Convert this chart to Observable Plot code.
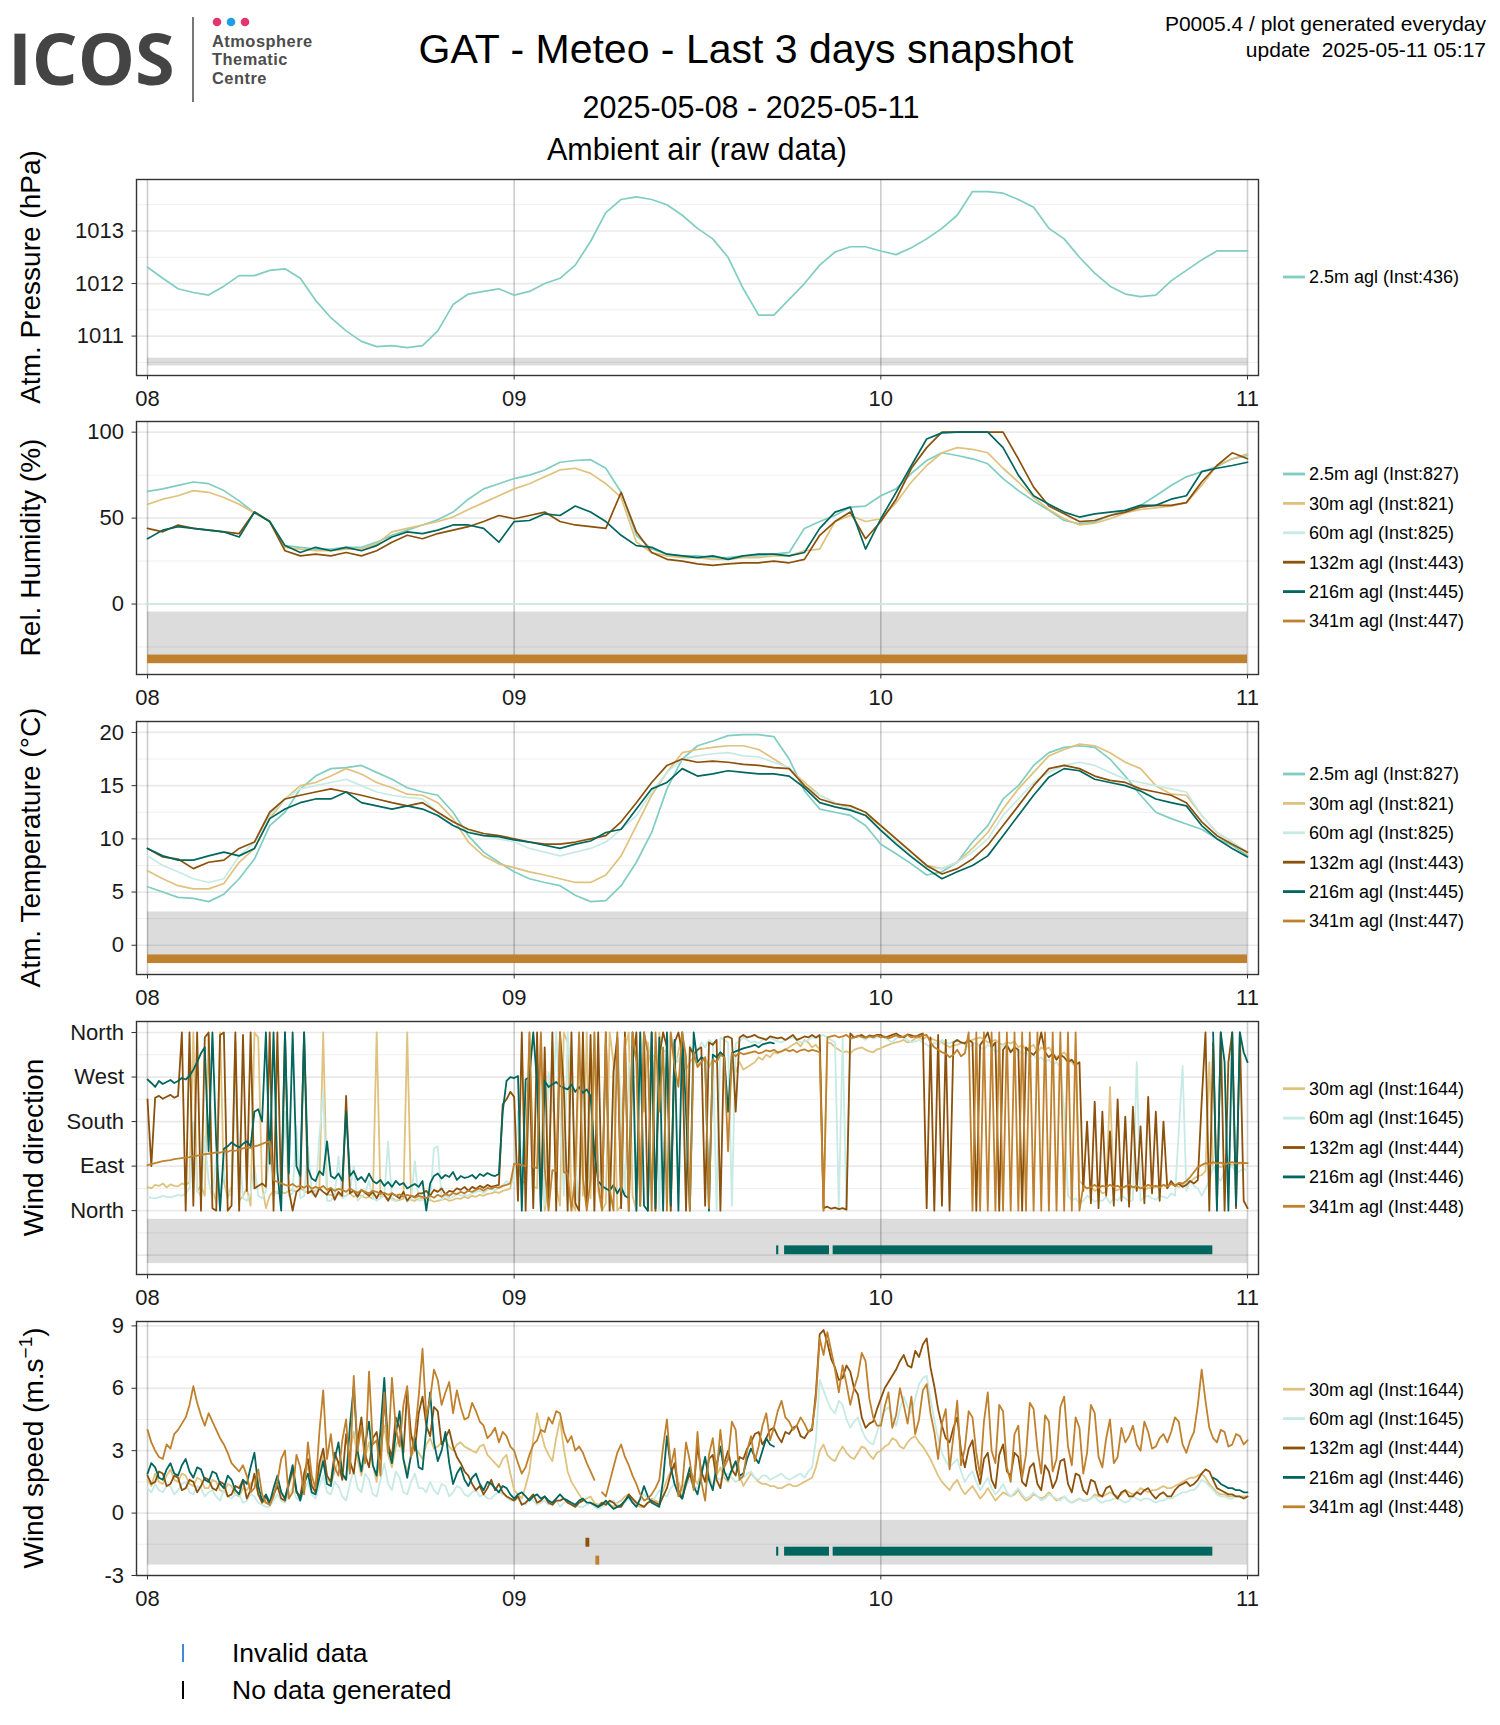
<!DOCTYPE html>
<html><head><meta charset="utf-8">
<script src="https://cdn.jsdelivr.net/npm/d3@7"></script>
<script src="https://cdn.jsdelivr.net/npm/@observablehq/plot@0.6"></script>
<style>
body{margin:0;background:#fff;}
#page{position:relative;width:1500px;height:1725px;overflow:hidden;background:#fff;font-family:"Liberation Sans",Arial,Helvetica,sans-serif;}
#page > svg{position:absolute;left:0;}
</style></head><body><div id="page"></div>
<script>
// ================= DATA =================
// time axis: hours since 2025-05-08 00:00
const dayTicks = [0, 24, 48, 72];
const dayLabels = ["08", "09", "10", "11"];
const hourly = d3.range(0, 73);
const quarterHourly = d3.range(0, 289).map(i => i / 4);

const seriesColors = {"2.5m":"#80cdc1","30m":"#dfc27d","60m":"#c7eae5","132m":"#8c510a","216m":"#01665e","341m":"#bf812d"};

// ---- Atm. pressure (hPa), hourly
const pressure25 = [1012.31,1012.10,1011.90,1011.83,1011.78,1011.95,1012.15,1012.15,1012.25,1012.28,
 1012.10,1011.68,1011.35,1011.10,1010.90,1010.80,1010.82,1010.78,1010.82,1011.10,
 1011.60,1011.80,1011.85,1011.90,1011.78,1011.85,1012.00,1012.10,1012.35,1012.80,
 1013.35,1013.60,1013.65,1013.60,1013.50,1013.30,1013.05,1012.85,1012.50,1011.90,
 1011.40,1011.40,1011.70,1012.00,1012.35,1012.60,1012.70,1012.70,1012.62,1012.55,
 1012.68,1012.85,1013.05,1013.30,1013.75,1013.75,1013.72,1013.60,1013.45,1013.05,
 1012.85,1012.50,1012.20,1011.95,1011.80,1011.75,1011.78,1012.05,1012.25,1012.45,
 1012.62,1012.62,1012.62];
const pressureLegend = ["2.5m agl (Inst:436)"];

// ---- Relative humidity (%), hourly
const rh25 = [65.5,67,69,71,70,66,60,53,48,34, 33,32,32,33,33,36,40,43,46,49,
 53.5,61,67,70,73,75,78,82.5,83.5,84, 79,65,40,32,29,28,28,27,27,28,
 28,29,30,44,48,51.5,56.4,57,63,67, 76,83.5,88,86.4,84.5,81.6,73,66,60,54.5,
 48.6,46.7,47.7,51.5,54.5,57.4,63,69,74,77, 80,84.5,86.4];
const rh30 = [58,61,63,66,65,62,58,53,48,33, 32,31,31,32,32,35,42,44,46,48,
 50.6,55,59,63,67,70,74,78,79,76, 70,62,36,30,28,27,27,26,26,27,
 27,28,28,31,32,48,51.5,48,49.6,59, 71,80.6,88,91,90,88,79,71,62,55,
 49.6,46,47,49.6,53,55,56,57,59,69, 80.6,84.5,87.4];
const rh60 = [0,0,0,0,0,0,0,0,0,0, 0,0,0,0,0,0,0,0,0,0, 0,0,0,0,0,0,0,0,0,0, 0,0,0,0,0,0,0,0,0,0,
 0,0,0,0,0,0,0,0,0,0, 0,0,0,0,0,0,0,0,0,0, 0,0,0,0,0,0,0,0,0,0, 0,0,0];
const rh132 = [44,42,46,44,43,42,41,53.5,48,31, 28,29,28,30,28,31,36,40,38,41,
 43,45,48,51.5,49.6,51.5,53.5,48,46,45, 44,65,42,30,26,25,23.4,22.5,23.4,24,
 24,25,24,26,40,48,53.5,38,48,61, 79,91,100,100,100,100,100,84.5,68,57,
 52.5,48,48.6,51.5,53.5,56.4,57.4,57.4,59,71, 80.6,88,84.5];
const rh216 = [38,43,45,44,43,42,39,53.5,48,34, 30,33,31,33,31,34,39,42,41,43,
 46,46,44,36,48,48.6,52.5,51.5,57,53.5, 48,40,34,33,29,28,27,28,26,28,
 29,29,28,30,44,53.5,56.4,32,49.6,65, 80.6,96,99.6,100,100,100,91,75,63,58,
 53.5,50.6,52.5,53.5,54.5,57.4,57.4,61,63,77, 79,80.6,82.5];
const thermoLegendRH = ["2.5m agl (Inst:827)","30m agl (Inst:821)","60m agl (Inst:825)","132m agl (Inst:443)","216m agl (Inst:445)","341m agl (Inst:447)"];

// ---- Air temperature (°C), hourly
const t25 = [5.5,5.0,4.5,4.4,4.1,4.8,6.25,8.1,11.25,12.5, 14.7,15.9,16.6,16.7,16.9,16.25,15.6,14.8,14.4,14.1,
 12.5,10.3,8.75,7.8,6.9,6.25,5.9,5.6,4.7,4.1, 4.2,5.6,7.8,10.6,14.7,17.5,18.75,19.2,19.7,19.8,
 19.8,19.6,17.5,14.5,12.8,12.5,12.2,11.25,9.5,8.6, 7.65,6.6,6.9,7.8,9.7,11.25,13.75,15.0,16.9,18.1,
 18.6,18.75,18.6,17.5,15.9,14.1,12.5,11.9,11.4,10.9, 10.0,9.4,8.4];
const t30 = [7.0,6.25,5.6,5.3,5.3,5.8,7.8,9.1,11.9,13.75, 15.0,15.3,15.9,16.6,16.1,15.3,14.8,14.2,14.1,13.4,
 11.9,9.7,8.4,7.65,7.3,6.9,6.6,6.25,5.9,5.9, 6.6,8.4,11.25,14.1,16.25,18.1,18.4,18.6,18.75,18.75,
 18.4,17.5,16.6,15.3,14.1,13.4,12.8,12.2,11.25,10.0, 8.75,7.5,7.2,7.8,9.1,10.6,12.8,14.7,16.25,17.8,
 18.4,18.9,18.75,18.1,17.2,16.6,15.0,14.2,14.1,12.2, 10.6,9.7,8.6];
const t60 = [8.4,7.5,6.9,6.25,5.9,6.25,8.4,9.7,12.2,13.75, 14.7,15.0,15.3,15.6,15.0,14.4,14.1,13.9,13.75,12.5,
 11.6,10.8,10.3,10.0,9.7,9.1,8.75,8.4,8.75,9.1, 9.7,10.9,12.2,14.4,16.25,17.5,17.8,18.0,18.1,17.8,
 17.7,17.2,16.7,15.0,14.1,13.4,12.8,12.2,10.9,9.7, 8.4,7.3,7.2,7.8,8.75,10.0,12.2,13.75,15.3,16.25,
 16.9,17.2,16.9,16.25,15.6,15.3,15.0,14.7,14.4,12.2, 10.6,9.7,8.75];
const t132 = [9.1,8.3,8.1,7.2,7.8,8.0,9.1,9.7,12.5,13.75, 14.1,14.4,14.7,14.4,14.1,13.75,13.4,13.1,13.4,12.5,
 11.6,10.9,10.5,10.3,10.0,9.7,9.5,9.5,9.7,10.0, 10.3,11.6,13.4,15.3,16.9,17.5,17.2,17.3,17.2,17.0,
 16.9,16.7,16.6,15.0,13.75,13.3,13.1,12.5,11.25,10.0, 8.75,7.5,6.7,7.2,8.1,9.4,11.25,13.1,15.0,16.6,
 16.9,16.6,15.9,15.5,15.3,14.7,14.4,14.1,13.4,11.6, 10.3,9.5,8.75];
const t216 = [9.1,8.4,8.0,8.0,8.4,8.75,8.4,9.1,11.9,12.8, 13.4,13.75,13.75,14.4,13.4,13.1,12.8,13.1,12.8,12.2,
 11.25,10.6,10.3,10.2,9.9,9.7,9.4,9.1,9.5,9.8, 10.6,10.9,12.8,14.7,15.3,16.6,15.9,16.1,16.4,16.25,
 16.1,16.1,15.9,14.8,13.4,13.0,12.7,12.2,10.8,9.5, 8.3,7.2,6.25,6.9,7.5,8.4,10.3,12.2,14.1,15.8,
 16.6,16.4,15.6,15.3,15.0,14.5,13.75,13.4,13.1,11.25, 10.0,9.1,8.3];
const thermoLegendT = ["2.5m agl (Inst:827)","30m agl (Inst:821)","60m agl (Inst:825)","132m agl (Inst:443)","216m agl (Inst:445)","341m agl (Inst:447)"];

// ---- Wind direction (degrees, 0 = North), every 15 min; one row = 3 hours
const wd30 = [
 48,45,52,50,55,47,53,50,49,55,52,58,
 360,40,50,30,355,45,15,360,60,25,50,340,
 20,30,45,10,360,350,50,5,30,40,35,38,
 35,40,42,38,45,40,36,42,38,44,360,32,
 32,30,34,28,30,35,28,32,30,26,28,24,
 360,28,30,24,26,20,22,24,360,22,20,25,
 25,20,22,18,20,22,24,20,22,25,24,28,
 25,30,28,32,30,34,35,38,36,40,42,45,
 90,88,60,55,360,50,45,360,0,55,340,50,
 10,360,340,20,0,355,30,360,25,350,40,0,
 15,360,300,0,10,330,360,30,0,360,200,340,
 280,0,360,270,300,0,290,320,360,285,300,310,
 295,300,310,290,305,300,320,310,200,290,280,300,
 285,290,295,300,310,305,315,310,320,318,322,325,
 330,335,340,332,345,340,330,335,325,0,340,338,
 330,325,320,322,318,325,328,330,325,322,320,326,
 328,332,335,338,340,342,345,340,342,348,350,346,
 352,348,345,342,340,335,330,334,335,338,340,342,
 345,348,350,346,340,342,345,338,335,340,338,342,
 330,335,325,330,335,320,330,325,330,318,310,315,
 320,310,300,290,60,52,45,48,40,44,35,38,
 250,40,42,45,48,50,46,44,48,42,46,45,
 48,50,52,46,55,50,48,52,60,58,65,70,
 72,80,300,85,90,88,92,95,92,94,95,96,
 96];
const wd60 = [
 28,26,25,27,30,28,27,29,32,30,34,45,
 180,40,30,150,60,25,110,30,80,40,30,250,
 140,25,20,35,90,30,25,40,120,30,40,35,
 200,30,35,170,25,30,130,35,28,150,240,20,
 20,30,110,25,30,40,90,20,28,35,60,25,
 20,25,30,140,22,20,25,30,18,22,100,20,
 22,20,25,125,130,22,30,25,28,35,30,32,
 30,35,38,40,35,42,45,40,48,50,60,55,
 60,200,40,260,220,20,300,250,10,280,200,360,
 200,30,360,260,100,0,300,20,150,360,60,100,
 280,0,250,360,200,30,290,310,0,300,360,320,
 315,310,0,320,325,360,315,300,330,20,335,320,
 320,340,330,345,340,0,350,345,340,10,338,342,
 350,345,340,342,338,345,348,350,345,342,340,345,
 348,350,345,340,342,345,350,348,352,355,350,345,
 340,5,350,0,345,350,355,350,345,352,348,350,
 355,350,345,340,348,352,350,345,340,342,345,340,
 335,330,340,335,345,340,338,342,345,340,335,330,
 335,340,330,325,335,330,320,325,335,330,325,320,
 325,315,320,310,315,305,310,300,305,295,300,290,
 200,30,20,25,15,20,30,25,18,22,20,28,
 15,25,20,30,25,18,22,300,20,28,30,25,
 22,30,28,25,35,30,160,292,40,60,50,45,
 30,45,60,90,70,60,80,85,90,75,80,85,
 80];
const wd132 = [
 225,90,228,232,226,230,234,228,232,360,0,360,
 10,360,0,350,360,5,0,355,360,0,10,360,
 0,355,40,360,45,50,55,48,360,0,360,30,
 360,42,0,38,45,360,35,40,28,45,38,32,
 45,22,38,30,232,35,40,28,42,36,30,38,
 25,40,32,20,35,30,25,38,20,30,28,35,
 35,40,30,42,38,45,33,40,38,45,42,48,
 40,48,44,50,46,52,48,50,52,215,225,240,
 230,20,360,0,300,5,360,0,330,10,360,0,
 360,250,0,360,15,0,360,10,355,0,360,5,
 360,0,280,350,5,360,0,300,360,10,360,0,
 360,0,310,360,330,0,340,360,320,0,330,315,
 325,330,10,340,335,345,0,350,352,348,200,350,
 355,350,352,355,350,348,345,352,350,348,350,345,
 350,355,345,348,352,350,355,350,355,5,8,4,
 6,3,5,2,358,350,352,355,350,354,352,355,
 355,350,352,355,358,353,350,356,354,351,355,358,
 5,350,0,355,10,345,0,340,345,340,338,345,
 340,0,335,345,360,330,340,0,325,335,320,330,
 325,0,330,320,315,325,360,320,310,318,305,315,
 310,300,305,295,300,40,180,15,220,5,200,30,
 160,10,225,20,190,8,210,40,170,15,230,35,
 200,20,180,45,60,50,55,48,52,60,55,62,
 220,360,0,340,10,360,0,300,360,5,360,20,
 5];
const wd216 = [
 265,258,250,262,256,260,264,258,262,268,265,272,
 285,300,318,330,120,360,135,0,125,130,138,132,
 128,135,140,130,200,205,180,360,95,360,80,0,
 360,75,360,90,70,360,85,65,60,80,72,140,
 70,65,75,60,200,70,80,62,68,58,75,60,
 55,62,50,58,48,60,52,56,45,50,54,48,
 60,0,55,70,75,65,72,68,78,62,70,66,
 68,72,65,74,70,76,72,70,74,200,262,270,
 268,272,0,265,270,360,258,0,262,250,255,260,
 252,248,245,255,240,250,238,245,232,120,60,50,
 45,40,52,35,48,30,25,360,0,360,10,0,
 360,5,350,0,360,10,345,0,360,200,0,360,
 300,310,305,0,315,310,320,312,200,318,322,325,
 328,330,332,335,330,336,338,340,338,null,null,null,
 null,null,null,null,null,null,null,null,null,null,null,null,
 null,null,null,null,null,null,null,null,null,null,null,null,
 null,null,null,null,null,null,null,null,null,null,null,null,
 null,null,null,null,null,null,null,null,null,null,null,null,
 null,null,null,null,null,null,null,null,null,null,null,null,
 null,null,null,null,null,null,null,null,null,null,null,null,
 null,null,null,null,null,null,null,null,null,null,null,null,
 null,null,null,null,null,null,null,null,null,null,null,null,
 null,null,null,null,null,null,null,null,null,null,null,null,
 null,null,null,360,0,360,300,0,360,10,360,320,
 300];
const wd341 = [
 92,94,96,98,100,101,102,104,105,106,107,108,
 110,111,112,114,115,116,118,117,120,119,122,121,
 124,126,128,127,130,132,135,138,140,62,58,55,
 52,50,54,48,50,46,52,44,48,45,50,42,
 46,40,44,42,38,45,40,36,42,38,35,40,
 38,34,36,32,35,30,33,28,32,30,26,30,
 28,25,30,26,32,28,34,30,36,33,38,35,
 40,38,42,45,40,46,44,48,46,50,52,55,
 95,94,92,90,360,88,86,360,85,0,82,80,
 360,78,75,0,72,360,68,0,62,360,55,0,
 360,45,0,360,40,350,0,360,300,10,360,320,
 0,360,200,330,0,360,290,250,360,310,0,320,
 290,300,310,5,305,300,315,310,120,318,312,320,
 316,318,320,322,318,320,324,322,325,320,322,326,
 322,325,320,324,326,322,325,323,320,0,350,352,
 354,350,352,355,348,350,353,351,349,352,350,354,
 350,352,348,351,354,350,352,355,350,353,351,354,
 355,340,330,325,320,318,310,315,325,312,318,360,
 0,360,0,360,0,360,0,360,0,360,0,360,
 0,360,0,360,0,360,0,360,0,360,0,360,
 0,360,0,360,0,50,45,48,52,46,50,48,
 52,48,50,46,49,53,47,50,45,48,52,49,
 50,47,52,49,54,51,56,55,60,68,78,88,
 92,96,94,98,95,97,93,96,98,95,97,96,
 96];
const windDirTicks = [0, 90, 180, 270, 360];
const windDirLabels = ["North", "East", "South", "West", "North"];
const sonicLegend = ["30m agl (Inst:1644)","60m agl (Inst:1645)","132m agl (Inst:444)","216m agl (Inst:446)","341m agl (Inst:448)"];

// ---- Wind speed (m/s), every 15 min; one row = 3 hours
const ws30 = [
 1.6,1.3,1.9,1.5,1.4,1.8,2.1,1.6,1.5,1.9,1.8,1.4,
 1.3,1.7,1.6,1.2,1.2,1.6,1.5,1.1,1.0,1.4,1.3,0.9,
 0.8,1.2,1.1,1.4,1.6,0.9,0.6,0.5,0.4,0.9,1.5,1.0,
 0.6,1.3,1.9,1.0,0.7,1.6,2.3,1.4,1.1,2.0,2.8,1.7,
 1.4,2.0,2.5,1.8,1.6,2.9,3.9,2.6,1.8,2.7,3.4,2.3,
 1.5,3.0,4.2,2.8,2.2,3.2,3.7,2.6,2.0,2.7,3.1,2.9,
 2.6,3.3,3.6,3.1,3.2,3.4,3.5,3.2,3.0,3.3,3.4,3.2,
 3.1,3.0,2.9,3.2,3.3,2.8,2.6,2.4,2.2,2.6,2.8,1.9,
 1.1,0.9,0.7,1.3,2.0,3.6,4.8,3.9,3.2,2.8,2.5,3.6,
 4.5,3.1,2.0,1.5,1.2,0.9,0.6,0.7,0.8,0.5,0.4,0.5,
 0.5,0.4,0.3,0.5,0.6,0.8,0.9,0.6,0.4,0.3,0.3,0.5,
 0.7,0.6,0.5,1.1,1.6,2.0,2.3,1.5,1.0,1.6,2.1,1.7,
 1.4,2.0,2.6,1.8,1.2,1.8,2.2,1.7,1.5,2.0,2.4,1.8,
 1.3,1.6,1.9,1.7,1.5,1.4,1.4,1.3,1.3,1.2,1.2,1.3,
 1.4,1.3,1.3,1.4,1.5,1.6,1.7,2.2,3.0,3.3,2.8,2.6,
 2.5,2.9,3.2,2.9,2.7,2.6,2.9,3.2,3.1,2.8,2.6,2.9,
 3.0,3.2,3.3,3.6,3.5,3.2,3.1,3.4,3.6,3.7,3.4,3.2,
 2.9,2.6,2.2,1.8,1.5,1.3,1.1,1.4,1.6,1.2,0.9,1.1,
 1.3,1.0,0.7,0.9,1.2,0.9,0.6,0.8,1.0,0.9,0.8,0.9,
 1.1,0.8,0.6,0.7,0.9,0.8,0.7,0.8,1.0,0.8,0.6,0.7,
 0.8,0.6,0.5,0.6,0.7,0.6,0.6,0.7,0.9,0.8,0.8,0.9,
 1.0,0.9,0.8,0.9,1.1,1.0,0.9,1.0,1.2,1.1,1.0,1.1,
 1.1,1.2,1.3,1.2,1.2,1.3,1.4,1.5,1.6,1.7,1.7,1.8,
 1.9,1.7,1.4,1.2,1.0,0.9,0.9,0.8,0.8,0.8,0.8,0.8,
 0.8];
const ws60 = [
 1.2,1.0,1.4,1.1,1.0,1.3,1.3,0.9,1.1,1.4,1.5,1.0,
 0.9,1.3,1.2,0.8,1.0,1.1,0.8,0.6,1.1,0.8,0.7,0.9,
 0.9,0.5,0.6,0.9,0.8,0.5,0.4,0.3,0.3,0.6,0.9,0.6,
 0.5,0.9,1.2,0.7,0.6,1.1,1.5,0.9,0.7,1.3,1.8,1.0,
 0.9,1.5,1.3,0.8,0.6,1.4,2.1,1.2,1.0,1.9,1.6,0.9,
 0.8,1.6,2.4,1.4,1.1,2.0,1.7,1.0,0.9,1.5,1.9,1.2,
 1.2,1.0,1.5,1.1,0.9,1.4,1.3,0.8,1.0,1.3,1.2,0.9,
 0.8,1.0,1.1,0.8,0.9,0.7,0.7,0.9,1.0,0.9,0.8,0.6,
 0.6,0.7,0.5,0.4,0.7,0.6,0.4,0.5,0.6,0.4,0.5,0.6,
 0.3,0.5,0.6,0.4,0.4,0.3,0.3,0.4,0.5,0.3,0.2,0.3,
 0.4,0.5,0.6,0.4,0.3,0.5,0.7,0.5,0.4,0.6,0.9,0.7,
 0.5,0.8,1.1,0.9,0.8,1.2,1.4,1.1,0.9,1.3,1.6,1.3,
 1.2,1.6,1.8,1.5,1.4,1.7,1.6,1.8,1.9,1.7,1.5,1.6,
 1.7,1.9,2.0,1.7,1.6,1.8,1.8,1.6,1.7,1.8,1.9,1.7,
 1.6,1.7,1.8,1.9,1.7,2.0,2.2,3.5,6.4,5.9,5.4,5.0,
 4.8,5.4,5.2,4.5,4.1,4.4,4.6,4.0,3.6,3.4,3.3,3.9,
 4.5,4.9,5.1,4.6,4.2,5.0,5.6,5.1,4.8,5.5,6.2,6.5,
 6.6,5.5,4.5,3.6,2.9,2.5,2.2,2.4,2.6,2.0,1.5,1.8,
 2.0,1.5,1.1,1.4,1.7,1.2,0.9,1.1,1.4,1.0,0.8,1.0,
 1.2,0.9,0.7,0.8,1.0,0.8,0.6,0.7,0.9,0.8,0.7,0.6,
 0.8,0.6,0.5,0.6,0.7,0.6,0.6,0.7,0.8,0.6,0.5,0.6,
 0.6,0.7,0.7,0.6,0.5,0.6,0.8,0.7,0.6,0.7,0.7,0.6,
 0.5,0.6,0.6,0.7,0.7,0.8,0.9,1.0,1.0,1.1,1.1,1.3,
 1.6,1.5,1.3,1.1,0.9,0.8,0.8,0.7,0.7,0.8,0.8,0.7,
 0.7];
const ws132 = [
 1.8,1.4,1.5,2.0,1.9,1.3,1.4,1.8,1.7,1.1,1.2,1.6,
 1.5,1.0,1.3,1.7,1.6,1.2,1.1,1.5,1.4,0.8,0.9,1.3,
 1.2,1.6,0.7,1.1,1.9,0.9,0.5,0.8,0.4,0.9,1.3,0.7,
 0.6,1.4,2.1,1.0,0.8,1.9,2.6,1.3,1.0,2.4,3.1,1.8,
 1.5,2.9,2.4,1.6,3.8,2.5,1.9,3.4,4.6,2.8,2.2,3.6,
 3.9,2.6,5.5,3.3,2.7,4.6,4.1,2.9,5.9,3.8,3.0,4.8,
 5.6,4.2,3.7,5.1,4.9,3.3,3.6,4.0,3.2,2.7,2.4,2.0,
 1.8,1.4,1.1,1.3,0.9,1.2,1.6,1.1,1.4,1.0,0.8,0.7,
 0.6,0.8,0.4,0.5,0.7,0.9,0.5,0.6,0.8,0.5,0.4,0.6,
 0.6,0.7,0.5,0.4,0.3,0.5,0.6,null,0.5,0.4,0.3,0.5,
 0.4,0.6,0.5,0.3,0.3,0.6,0.9,0.7,0.5,0.4,0.3,0.5,
 0.6,0.5,0.4,0.8,1.2,1.9,2.4,1.1,0.7,1.4,1.9,1.2,
 3.2,2.0,1.5,2.6,2.8,1.6,1.2,2.4,3.0,2.1,1.8,2.7,
 2.6,3.1,3.4,3.8,3.9,3.3,3.6,4.0,4.1,3.7,3.4,3.9,
 3.8,4.1,4.2,3.7,3.6,3.9,4.0,5.8,8.6,8.8,8.2,7.4,
 7.0,6.4,6.5,7.1,6.8,6.0,5.7,4.6,4.1,4.3,4.4,5.0,
 5.5,6.0,6.3,6.6,6.9,7.3,7.6,7.1,7.0,7.8,7.5,8.1,
 8.4,7.0,6.1,5.0,4.2,3.6,3.4,4.1,4.6,3.0,2.2,3.1,
 3.5,2.1,1.4,2.6,2.9,1.6,1.2,2.8,3.3,2.0,1.8,2.9,
 2.7,1.5,1.3,2.2,2.4,1.4,1.1,2.3,2.0,1.2,1.6,2.5,
 2.6,1.4,1.0,1.9,1.8,1.1,0.9,1.6,1.5,0.9,0.8,1.2,
 1.3,0.9,0.7,1.0,1.1,0.8,0.8,1.0,0.9,1.1,1.2,0.9,
 0.7,0.9,1.0,0.8,0.8,1.1,1.3,1.4,1.5,1.3,1.4,1.6,
 1.9,2.1,2.0,1.6,1.2,1.1,1.0,0.9,0.9,0.8,0.8,0.7,
 0.8];
const ws216 = [
 1.9,2.4,2.2,1.7,1.6,2.1,2.4,1.9,1.8,2.3,2.6,2.0,
 1.7,2.2,2.1,1.6,1.5,2.0,1.9,1.4,1.2,1.8,1.6,1.1,
 0.9,1.6,1.4,2.2,2.9,1.3,0.6,0.9,0.5,1.2,1.8,1.0,
 0.7,1.5,2.3,1.1,0.6,1.4,1.9,1.0,0.9,1.7,2.5,1.4,
 1.3,2.6,3.4,1.9,1.6,4.2,6.1,3.0,2.0,3.3,4.4,2.3,
 1.8,4.0,6.5,3.1,2.4,3.8,4.9,2.6,1.7,2.8,3.6,2.2,
 2.1,4.1,5.8,3.4,2.5,3.0,3.9,2.4,1.4,1.9,2.2,1.6,
 1.3,1.7,1.9,1.4,1.1,1.5,1.4,1.2,1.0,1.3,1.2,0.9,
 0.7,0.9,1.0,0.8,0.6,0.8,0.9,0.7,0.8,0.6,0.5,0.7,
 0.9,0.7,0.6,0.5,0.4,0.6,0.7,0.5,0.5,0.4,0.3,0.4,
 0.6,0.4,0.2,0.3,0.4,0.6,0.8,0.5,0.3,0.7,1.3,0.8,
 0.5,0.4,0.3,1.6,3.7,2.2,1.4,0.9,0.7,1.5,2.2,1.3,
 0.9,1.8,2.7,1.6,1.1,2.3,3.2,2.0,1.6,2.1,2.5,1.8,
 1.9,2.6,3.1,2.7,2.4,3.0,3.6,3.3,3.2,null,null,null,
 null,null,null,null,null,null,null,null,null,null,null,null,
 null,null,null,null,null,null,null,null,null,null,null,null,
 null,null,null,null,null,null,null,null,null,null,null,null,
 null,null,null,null,null,null,null,null,null,null,null,null,
 null,null,null,null,null,null,null,null,null,null,null,null,
 null,null,null,null,null,null,null,null,null,null,null,null,
 null,null,null,null,null,null,null,null,null,null,null,null,
 null,null,null,null,null,null,null,null,null,null,null,null,
 null,null,null,null,null,null,null,null,null,null,null,null,
 null,null,null,1.7,1.6,1.4,1.3,1.2,1.2,1.1,1.1,1.0,
 1.0];
const ws341 = [
 4.0,3.4,3.0,2.7,2.6,3.3,3.1,3.8,4.0,4.3,4.6,5.2,
 6.1,5.3,4.7,4.2,4.8,4.4,4.0,3.6,3.3,2.9,2.4,2.2,
 2.0,2.3,1.8,1.0,1.2,2.1,0.9,0.5,0.4,0.8,1.5,2.6,
 3.0,0.7,1.0,2.8,2.2,0.9,3.4,1.8,1.2,3.9,5.9,2.6,
 3.8,2.2,1.8,3.5,4.5,1.9,6.6,3.0,4.2,2.4,6.8,3.3,
 3.5,1.8,5.8,2.9,6.5,4.1,3.2,5.2,6.1,2.7,3.8,5.6,
 7.9,4.6,5.5,6.9,6.4,5.2,5.8,6.3,4.8,5.9,5.1,4.5,
 4.6,5.3,4.9,4.4,4.2,3.6,3.8,4.1,3.4,3.9,3.7,3.2,
 3.0,2.4,1.9,2.2,2.8,3.3,3.5,4.0,3.9,4.6,4.3,4.9,
 4.8,3.9,3.4,3.7,3.0,3.2,2.9,2.4,2.0,1.6,null,1.0,
 0.8,1.5,2.2,2.9,3.3,2.7,2.3,1.8,1.4,0.9,0.6,0.7,
 0.9,1.2,1.6,3.2,4.5,2.2,3.1,0.8,1.3,3.4,2.5,1.1,
 3.9,1.5,0.6,2.8,3.6,1.9,4.0,2.2,2.6,4.4,4.0,1.6,
 1.8,3.0,3.7,2.5,3.2,4.2,4.8,3.5,4.1,4.9,5.4,4.6,
 4.4,4.0,4.2,4.6,4.3,3.9,4.1,5.5,8.4,7.6,8.7,7.8,
 6.9,5.8,7.1,6.2,5.2,6.0,6.6,7.7,7.3,5.5,4.6,4.2,
 4.2,5.1,5.8,4.1,4.7,6.0,5.2,4.3,5.6,3.8,4.5,5.9,
 6.2,4.8,3.9,2.6,4.3,5.0,2.1,3.7,5.4,2.3,3.1,4.9,
 4.6,2.9,1.8,4.4,5.8,3.0,2.4,5.2,4.9,2.2,1.5,3.8,
 4.2,1.7,2.8,5.3,5.0,3.1,1.9,4.7,4.4,2.0,2.6,5.1,
 5.6,3.2,2.3,4.6,4.1,1.9,2.9,5.2,4.8,2.7,2.2,3.6,
 4.5,2.4,2.7,4.1,3.4,3.7,4.2,3.3,3.0,4.4,3.9,3.1,
 3.2,3.6,3.8,3.4,3.9,4.6,4.4,3.3,2.9,3.5,3.9,5.2,
 6.9,5.4,4.1,3.6,3.4,4.0,3.9,3.2,3.3,3.8,3.7,3.3,
 3.5];

// ---- "No data generated" flags (hours)
const noDataRH = [{series:"341m", start:0, end:72}];
const noDataT = [{series:"341m", start:0, end:72}];
const noDataWD = [{series:"216m", start:41.18, end:41.32},{series:"216m", start:41.7, end:44.64},{series:"216m", start:44.88, end:69.73}];
const noDataWS = [{series:"132m", start:28.7, end:28.95},{series:"341m", start:29.35, end:29.6},
  {series:"216m", start:41.18, end:41.32},{series:"216m", start:41.7, end:44.64},{series:"216m", start:44.88, end:69.73}];

const footerLegend = [{label:"Invalid data", color:"#3d8bd4"},{label:"No data generated", color:"#000000"}];

// ================= DRAWING =================
const FONT = '"Liberation Sans", Arial, Helvetica, sans-serif';
const W = 1500, ML = 136, MR = 242;
const XDOM = [-0.72, 72.72];
const page = document.getElementById("page");

function rows(times, values, series) {
  return times.map((t, i) => ({t, v: values[i] == null ? NaN : values[i], series}));
}

function panel(cfg) {
  const mt = 4, mb = 46;
  const h = cfg.bottom - cfg.top;
  const [bLo, bHi] = cfg.band;
  const laneH = (bHi - bLo) / cfg.lanes.length;
  const flagRects = cfg.flags.map(f => {
    const i = cfg.lanes.indexOf(f.series);
    return {x1: f.start, x2: f.end, y2: bHi - i * laneH, y1: bHi - (i + 1) * laneH, fill: seriesColors[f.series]};
  });
  const labelMap = new Map(cfg.majorTicks.map((d, i) => [d, cfg.tickLabels ? cfg.tickLabels[i] : String(d)]));
  const marks = [
    Plot.rect([{x1: 0, x2: 72, y1: bLo, y2: bHi}], {x1: "x1", x2: "x2", y1: "y1", y2: "y2", fill: "#dcdcdc"}),
    Plot.ruleY(cfg.minorGrid, {stroke: "#000", strokeOpacity: 0.07, strokeWidth: 0.9}),
    Plot.ruleY(cfg.majorGrid, {stroke: "#000", strokeOpacity: 0.085, strokeWidth: 1.7}),
    Plot.ruleX(dayTicks, {stroke: "#000", strokeOpacity: 0.2, strokeWidth: 1.6}),
    ...cfg.lines.map(s => Plot.line(s.data, {x: "t", y: "v", stroke: seriesColors[s.series], strokeWidth: cfg.lw || 1.7})),
    Plot.rect(flagRects, {x1: "x1", x2: "x2", y1: "y1", y2: "y2", fill: "fill"}),
    Plot.frame({stroke: "#333", strokeWidth: 1.4}),
    Plot.axisY(cfg.majorTicks, {tickFormat: d => labelMap.get(d), tickSize: 4.5, tickPadding: 8, fontSize: 22, label: null, stroke: "#333"}),
    Plot.axisX(dayTicks, {tickFormat: d => dayLabels[dayTicks.indexOf(d)], tickSize: 4.5, tickPadding: 10, fontSize: 22, label: null, stroke: "#333"})
  ];
  const svg = Plot.plot({
    width: W, height: h + mt + mb,
    marginLeft: ML, marginRight: MR, marginTop: mt, marginBottom: mb,
    x: {type: "linear", domain: XDOM},
    y: {type: "linear", domain: cfg.yDomain},
    style: {fontFamily: FONT, fontSize: "22px", color: "#1a1a1a", background: "transparent", overflow: "visible"},
    marks
  });
  svg.style.top = (cfg.top - mt) + "px";
  page.appendChild(svg);
}

// Panels
panel({top: 179, bottom: 375, yDomain: [1010.25, 1013.98], band: [1010.43, 1010.58], lanes: ["2.5m"],
  majorTicks: [1011, 1012, 1013], majorGrid: [1011, 1012, 1013], minorGrid: [1010.5, 1011.5, 1012.5, 1013.5],
  lines: [{series: "2.5m", data: rows(hourly, pressure25, "2.5m")}], flags: []});

panel({top: 421, bottom: 674, yDomain: [-41, 106.2], band: [-34.7, -4.65], lanes: ["2.5m","30m","60m","132m","216m","341m"],
  majorTicks: [0, 50, 100], majorGrid: [0, 50, 100], minorGrid: [-25, 25, 75],
  lines: [{series:"2.5m", data: rows(hourly, rh25, "2.5m")},{series:"30m", data: rows(hourly, rh30, "30m")},
          {series:"60m", data: rows(hourly, rh60, "60m")},{series:"132m", data: rows(hourly, rh132, "132m")},
          {series:"216m", data: rows(hourly, rh216, "216m")}], flags: noDataRH});

panel({top: 721, bottom: 974, yDomain: [-2.75, 21.03], band: [-1.72, 3.125], lanes: ["2.5m","30m","60m","132m","216m","341m"],
  majorTicks: [0, 5, 10, 15, 20], majorGrid: [0, 5, 10, 15, 20], minorGrid: [-2.5, 2.5, 7.5, 12.5, 17.5],
  lines: [{series:"2.5m", data: rows(hourly, t25, "2.5m")},{series:"30m", data: rows(hourly, t30, "30m")},
          {series:"60m", data: rows(hourly, t60, "60m")},{series:"132m", data: rows(hourly, t132, "132m")},
          {series:"216m", data: rows(hourly, t216, "216m")}], flags: noDataT});

panel({top: 1021, bottom: 1274, yDomain: [-129, 382.2], band: [-107, -17.4], lanes: ["30m","60m","132m","216m","341m"],
  majorTicks: windDirTicks, tickLabels: windDirLabels, majorGrid: [-90, 0, 90, 180, 270, 360], minorGrid: [-45, 45, 135, 225, 315],
  lw: 1.8,
  lines: [{series:"30m", data: rows(quarterHourly, wd30, "30m")},{series:"60m", data: rows(quarterHourly, wd60, "60m")},
          {series:"132m", data: rows(quarterHourly, wd132, "132m")},{series:"216m", data: rows(quarterHourly, wd216, "216m")},
          {series:"341m", data: rows(quarterHourly, wd341, "341m")}], flags: noDataWD});

panel({top: 1321, bottom: 1575, yDomain: [-3, 9.21], band: [-2.5, -0.35], lanes: ["30m","60m","132m","216m","341m"],
  majorTicks: [-3, 0, 3, 6, 9], majorGrid: [-3, 0, 3, 6, 9], minorGrid: [-1.5, 1.5, 4.5, 7.5],
  lw: 1.8,
  lines: [{series:"30m", data: rows(quarterHourly, ws30, "30m")},{series:"60m", data: rows(quarterHourly, ws60, "60m")},
          {series:"132m", data: rows(quarterHourly, ws132, "132m")},{series:"216m", data: rows(quarterHourly, ws216, "216m")},
          {series:"341m", data: rows(quarterHourly, ws341, "341m")}], flags: noDataWS});

// ---------- overlay: header, axis titles, legends, footer ----------
const ov = d3.select(page).append("svg").attr("width", W).attr("height", 1725).style("top", "0px")
  .style("font-family", FONT);

// logo
ov.append("text").attr("x", 8).attr("y", 85).attr("font-family", '"Open Sans", sans-serif').attr("font-weight", 700)
  .attr("font-size", 72).attr("fill", "#444").text("ICOS");
ov.append("line").attr("x1", 193).attr("x2", 193).attr("y1", 17).attr("y2", 102).attr("stroke", "#555").attr("stroke-width", 1.6);
[["#e5356f", 217], ["#1d9fe2", 231], ["#e5356f", 245]].forEach(([c, x]) =>
  ov.append("circle").attr("cx", x).attr("cy", 22).attr("r", 4.3).attr("fill", c));
[["Atmosphere", 46.5], ["Thematic", 65], ["Centre", 83.5]].forEach(([t, y]) =>
  ov.append("text").attr("x", 212).attr("y", y).attr("font-family", '"Liberation Sans", Arial, sans-serif').attr("font-weight", 700)
    .attr("font-size", 16.4).attr("letter-spacing", 0.5).attr("fill", "#4d4d4d").text(t));

// titles
ov.append("text").attr("x", 746).attr("y", 63).attr("text-anchor", "middle").attr("font-size", 41).attr("fill", "#000")
  .text("GAT - Meteo - Last 3 days snapshot");
ov.append("text").attr("x", 751).attr("y", 118).attr("text-anchor", "middle").attr("font-size", 30.5).attr("fill", "#000")
  .text("2025-05-08 - 2025-05-11");
ov.append("text").attr("x", 697).attr("y", 160).attr("text-anchor", "middle").attr("font-size", 30.5).attr("fill", "#000")
  .text("Ambient air (raw data)");
ov.append("text").attr("x", 1486).attr("y", 31).attr("text-anchor", "end").attr("font-size", 21).attr("fill", "#000")
  .text("P0005.4 / plot generated everyday");
ov.append("text").attr("x", 1486).attr("y", 57).attr("text-anchor", "end").attr("font-size", 21).attr("fill", "#000")
  .attr("xml:space", "preserve").style("white-space", "pre").text("update  2025-05-11 05:17");

// y-axis titles
function yTitle(text, cy, bx, sup) {
  const t = ov.append("text").attr("transform", `translate(${bx},${cy}) rotate(-90)`).attr("text-anchor", "middle")
    .attr("font-size", 28).attr("fill", "#000");
  t.append("tspan").text(text);
  if (sup) {
    t.append("tspan").attr("font-size", 19).attr("dy", -11).text(sup);
    t.append("tspan").attr("dy", 11).text(")");
  }
}
yTitle("Atm. Pressure (hPa)", 277, 40);
yTitle("Rel. Humidity (%)", 547.5, 40);
yTitle("Atm. Temperature (°C)", 847.5, 40);
yTitle("Wind direction", 1147.5, 43);
yTitle("Wind speed (m.s", 1448, 43, "−1");

// right legends
function legend(labels, keys, cy) {
  const n = labels.length, step = 29.4;
  labels.forEach((lab, i) => {
    const y = cy + (i - (n - 1) / 2) * step;
    ov.append("line").attr("x1", 1283).attr("x2", 1305).attr("y1", y).attr("y2", y)
      .attr("stroke", seriesColors[keys[i]]).attr("stroke-width", 2.8);
    ov.append("text").attr("x", 1309).attr("y", y).attr("dy", "0.35em").attr("font-size", 18).attr("fill", "#000").text(lab);
  });
}
legend(pressureLegend, ["2.5m"], 277);
legend(thermoLegendRH, ["2.5m","30m","60m","132m","216m","341m"], 547.5);
legend(thermoLegendT, ["2.5m","30m","60m","132m","216m","341m"], 847.5);
legend(sonicLegend, ["30m","60m","132m","216m","341m"], 1147.5);
legend(sonicLegend, ["30m","60m","132m","216m","341m"], 1448);

// footer legend
footerLegend.forEach((d, i) => {
  const y = 1653 + i * 37;
  ov.append("line").attr("x1", 183).attr("x2", 183).attr("y1", y - 9).attr("y2", y + 9).attr("stroke", d.color).attr("stroke-width", 2);
  ov.append("text").attr("x", 232).attr("y", y).attr("dy", "0.35em").attr("font-size", 26.5).attr("fill", "#000").text(d.label);
});
</script>
</body></html>
